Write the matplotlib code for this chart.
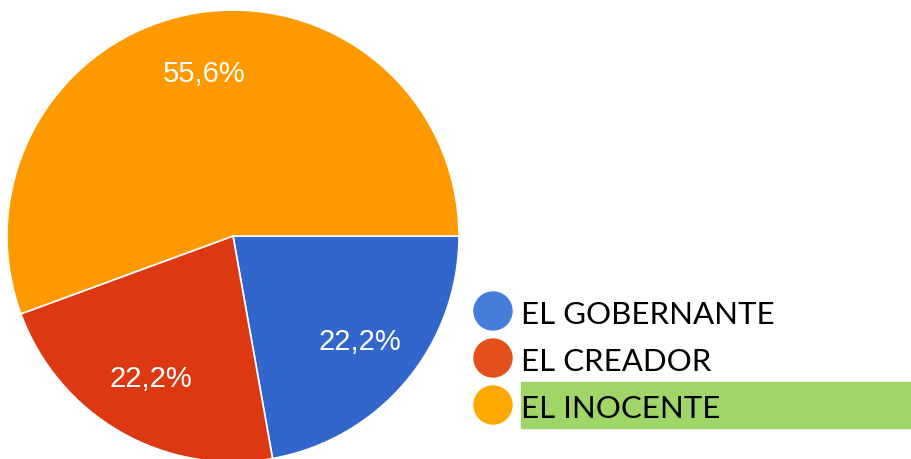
import matplotlib.pyplot as plt
from matplotlib.patches import Circle, Rectangle

labels = ["EL GOBERNANTE", "EL CREADOR", "EL INOCENTE"]
values = [22.2, 22.2, 55.6]
pie_colors = ["#3366cc", "#dc3912", "#ff9900"]
legend_colors = ["#457ddb", "#e4501b", "#ffa800"]

W, H = 912, 459
fig = plt.figure(figsize=(W / 100, H / 100), dpi=100)

# pie axes: center (233, 236), radius 226 px
cx, cy, r = 233, 236, 226
ax = fig.add_axes([(cx - r) / W, (H - cy - r) / H, 2 * r / W, 2 * r / H])
wedges, texts, autotexts = ax.pie(
    values, colors=pie_colors, startangle=0, counterclock=False,
    autopct=lambda p: f"{p:.1f}%".replace(".", ","), pctdistance=0.73,
    wedgeprops=dict(edgecolor="white", linewidth=1.2),
    textprops=dict(color="white", fontsize=21, family="Liberation Sans"))
ax.set_xlim(-1, 1)
ax.set_ylim(-1, 1)
ax.set_aspect("equal")
ax.axis("off")

# legend drawn in pixel coordinates
lg = fig.add_axes([0, 0, 1, 1])
lg.set_xlim(0, W)
lg.set_ylim(H, 0)
lg.axis("off")
lg.add_patch(Rectangle((521, 382), W - 521, 46, color="#a0d568", zorder=0))
rows_y = [311, 358, 405]
for y, lab, col in zip(rows_y, labels, legend_colors):
    lg.add_patch(Circle((493, y), 19, color=col))
    lg.text(521, y + 4, lab, fontsize=22.5, family="Lato",
            va="center", ha="left", color="black")

fig.savefig("out.png", dpi=100)
